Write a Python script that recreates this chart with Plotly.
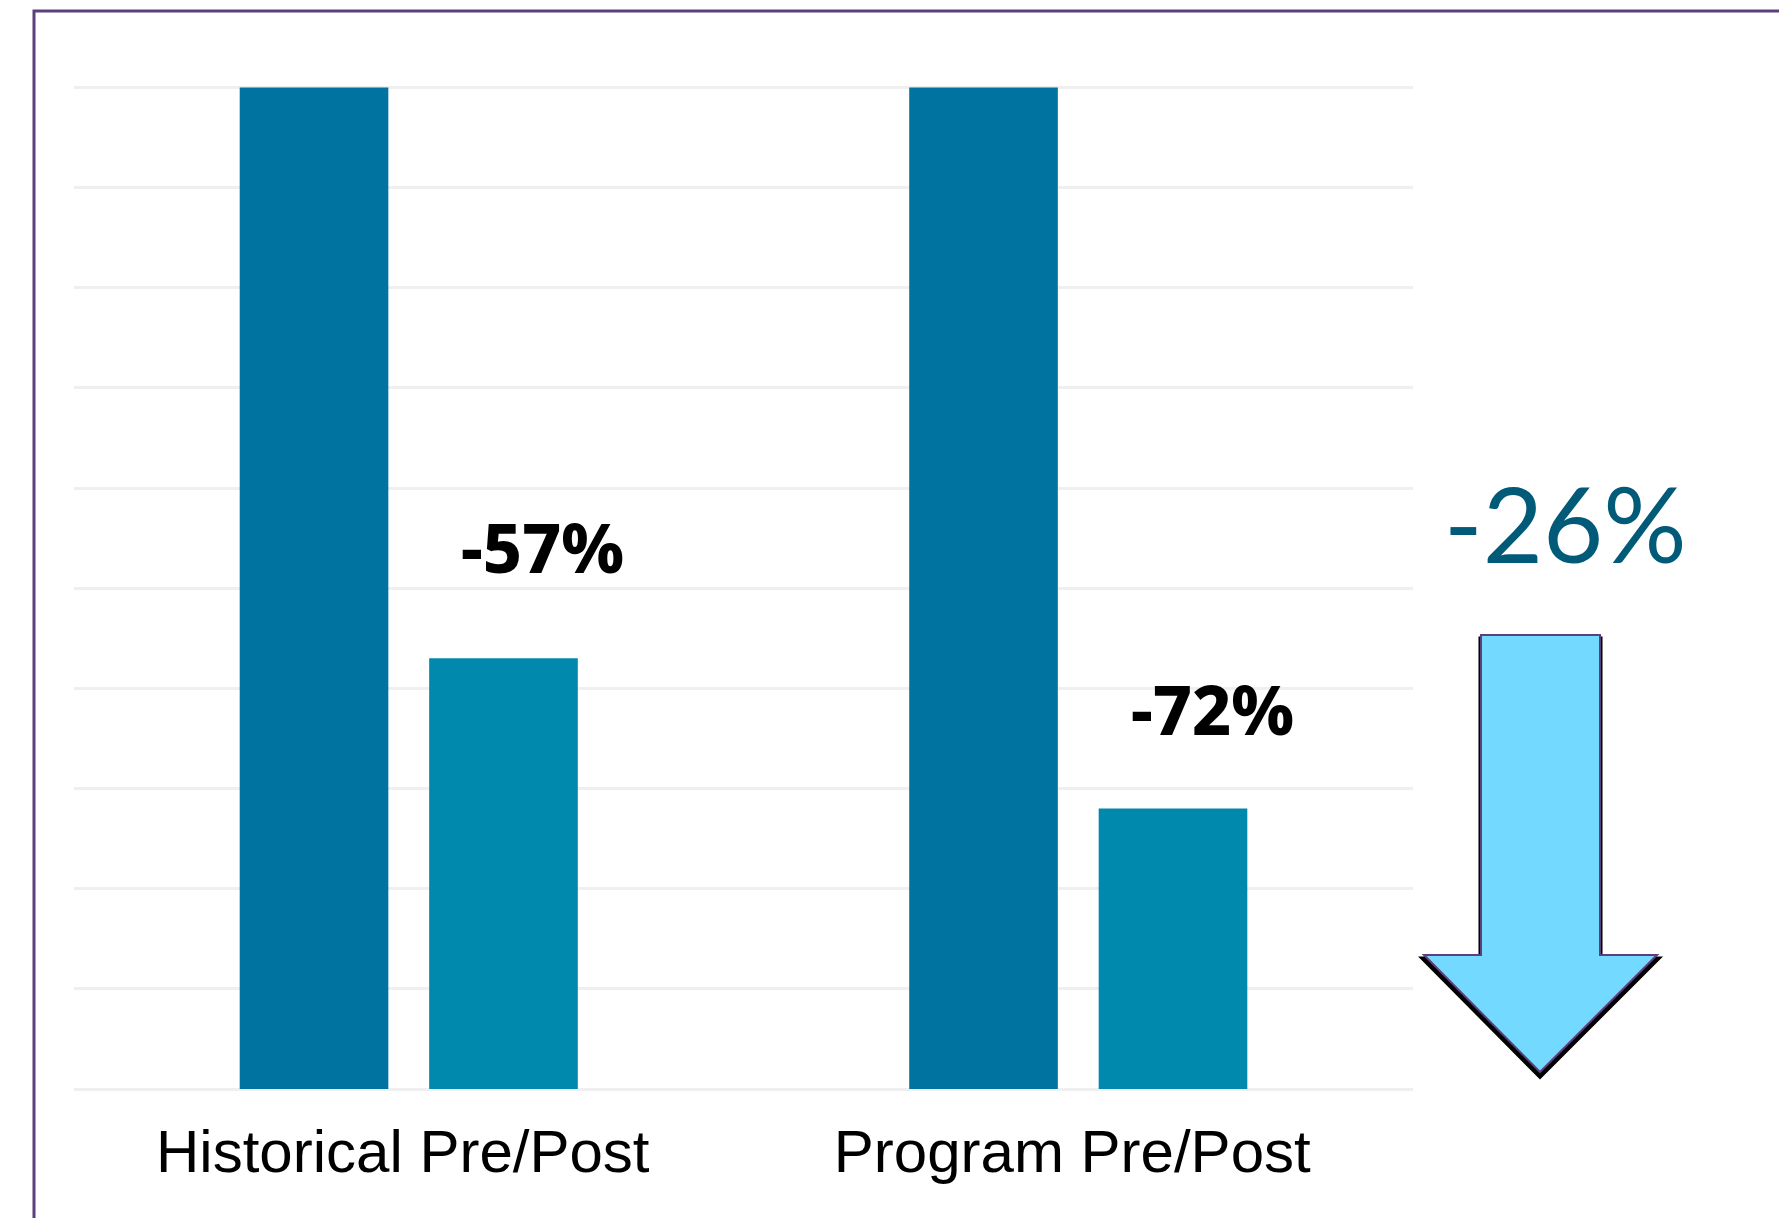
import plotly.graph_objects as go

categories = ["Historical Pre/Post", "Program Pre/Post"]
pre_values = [100, 100]
post_values = [43, 28]
change_labels = ["-57%", "-72%"]
overall_label = "-26%"

W, H = 1779, 1218
L, R, T, B = 74, 1779 - 1413, 86, 1218 - 1089
pw, ph = W - L - R, H - T - B

def px(x):
    return (x - L) / pw

def py(y):
    return (H - B - y) / ph

fig = go.Figure()
fig.add_trace(go.Bar(x=categories, y=pre_values, name="Pre",
                     marker=dict(color="#0073A0", line=dict(width=0)),
                     hoverinfo="skip"))
fig.add_trace(go.Bar(x=categories, y=post_values, name="Post",
                     marker=dict(color="#0088AD", line=dict(width=0)),
                     hoverinfo="skip"))

label_shifts = [112, 100]
for i, (v, lab) in enumerate(zip(post_values, change_labels)):
    fig.add_annotation(x=i + 0.2, y=v, xref="x", yref="y", text=lab,
                       showarrow=False, yanchor="middle", yshift=label_shifts[i],
                       font=dict(family="Noto Sans", size=68, color="#000000",
                                 weight=800))

fig.add_annotation(x=px(1566), y=py(522), xref="paper", yref="paper",
                   text=overall_label, showarrow=False,
                   xanchor="center", yanchor="middle",
                   font=dict(family="Lato", size=104, color="#005A78"))

# arrow (decoration) in pixel-derived paper coordinates
arrow_pts = [(1481, 635), (1600, 635), (1600, 955), (1657, 955),
             (1540, 1072), (1424, 955), (1481, 955)]

def path(pts, dx=0, dy=0):
    s = "M " + " L ".join(f"{px(x + dx):.5f},{py(y + dy):.5f}" for x, y in pts) + " Z"
    return s

fig.add_shape(type="path", path=path(arrow_pts, 0, 4), xref="paper", yref="paper",
              fillcolor="#000000", line=dict(color="#000000", width=5), layer="above")
fig.add_shape(type="path", path=path(arrow_pts), xref="paper", yref="paper",
              fillcolor="#73D9FF", line=dict(color="#5E3F7E", width=2), layer="above")

# frame border
fig.add_shape(type="rect", xref="paper", yref="paper",
              x0=px(34), y0=py(1240), x1=px(1800), y1=py(11),
              line=dict(color="#5E3F7E", width=3), fillcolor="rgba(0,0,0,0)", layer="above")

fig.update_layout(
    width=W, height=H,
    margin=dict(l=L, r=R, t=T, b=B, pad=0),
    paper_bgcolor="white", plot_bgcolor="white",
    barmode="group", bargap=0.434, bargroupgap=0.2155,
    showlegend=False,
    xaxis=dict(type="category", range=[-0.5, 1.5], showgrid=False, showline=False,
               ticks="", zeroline=False, ticklabelstandoff=22, ticklabelshift=-6,
               tickfont=dict(family="Liberation Sans", size=60, color="#000000")),
    yaxis=dict(range=[0, 100.15], tickvals=list(range(0, 101, 10)), showgrid=True,
               gridcolor="#EFEFEF", gridwidth=3, showticklabels=False, zeroline=True,
               zerolinecolor="#EFEFEF", zerolinewidth=3, showline=False, ticks=""),
)

fig.write_html("out.html")
